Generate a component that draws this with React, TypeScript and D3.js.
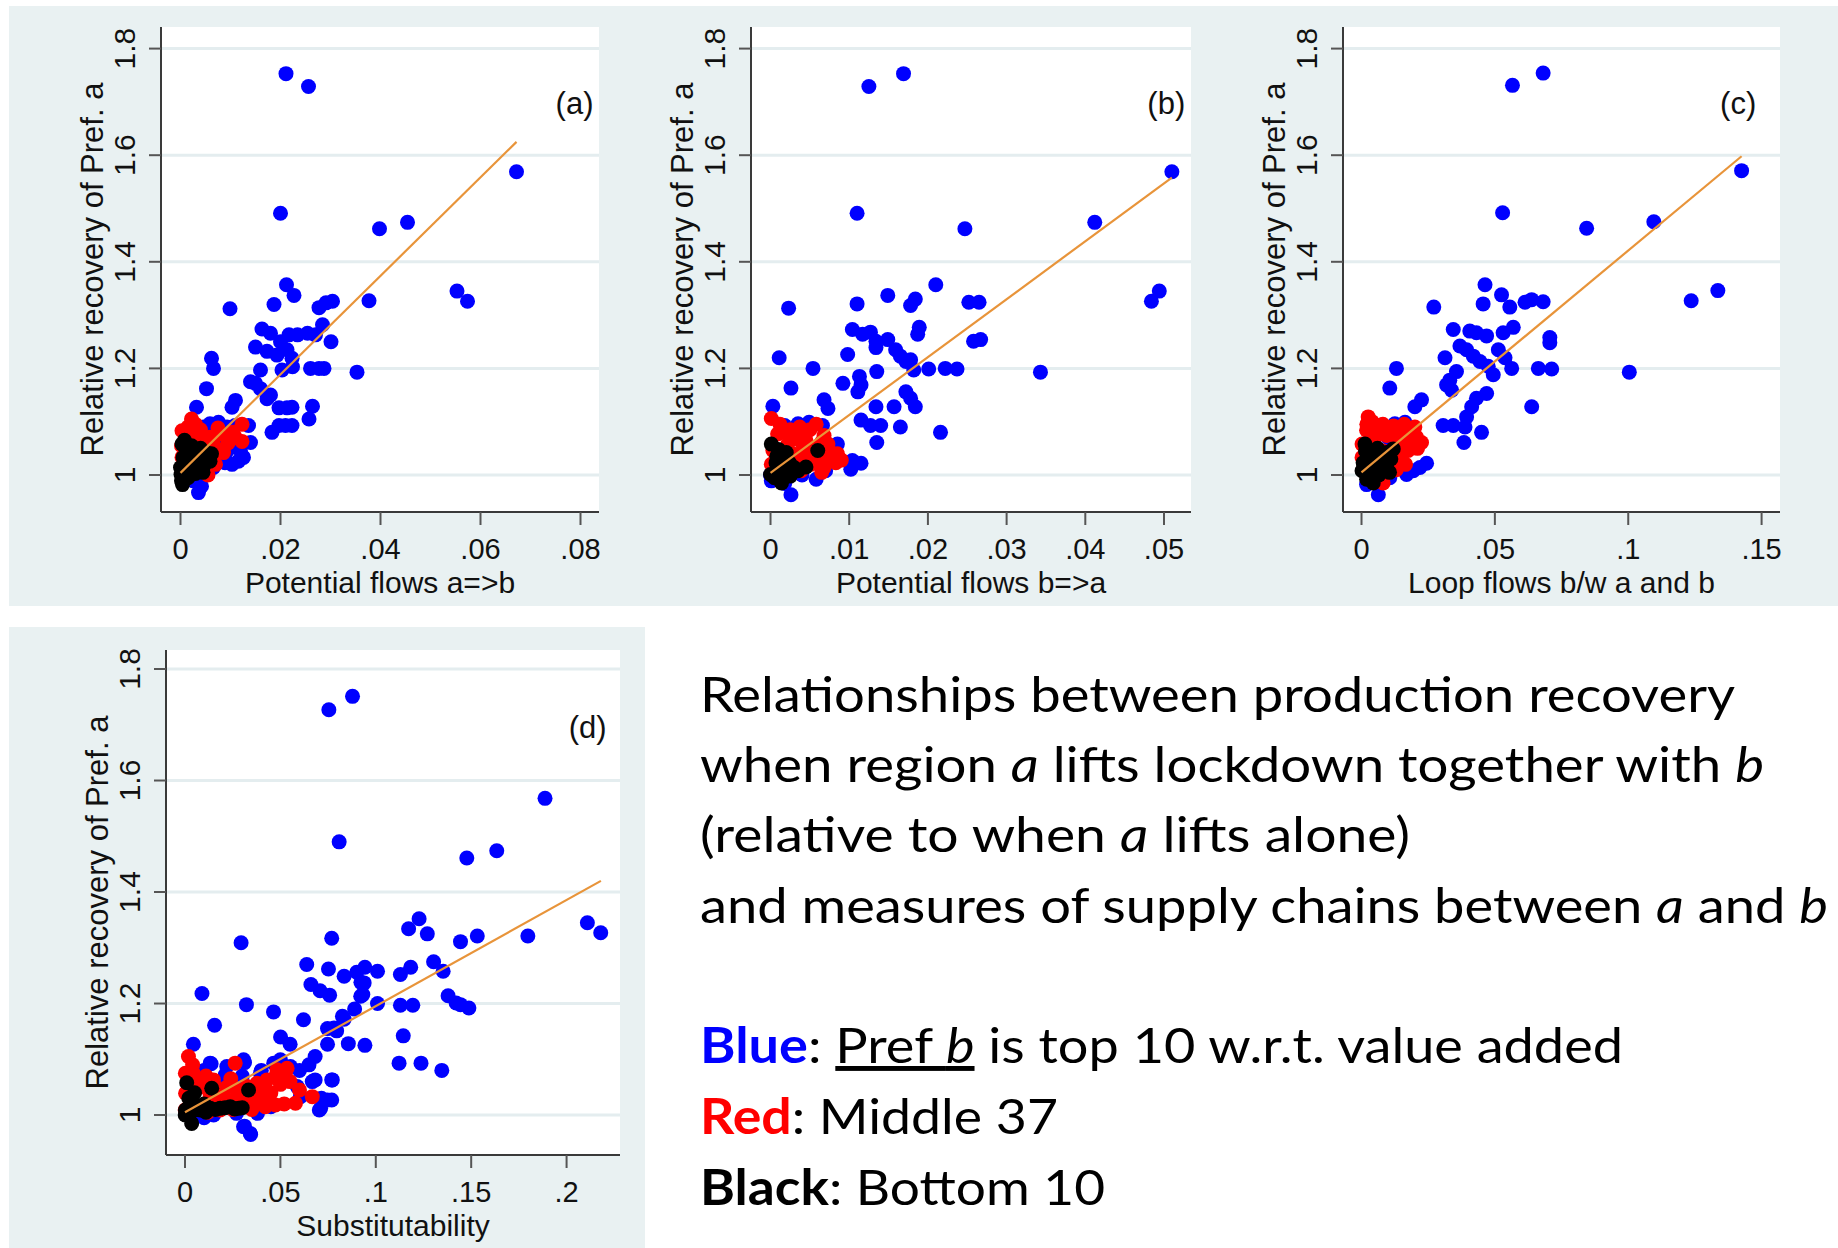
import React from "react";
import * as d3 from "d3";

type Pt = [number, number];

// ---------- shared axis values ----------
const yTicks = [1, 1.2, 1.4, 1.6, 1.8];
const yTitle = "Relative recovery of Pref. a";

const aTicks = [0, 0.02, 0.04, 0.06, 0.08];
const bTicks = [0, 0.01, 0.02, 0.03, 0.04, 0.05];
const cTicks = [0, 0.05, 0.1, 0.15];
const dTicks = [0, 0.05, 0.1, 0.15, 0.2];

const xTitles = ["Potential flows a=>b", "Potential flows b=>a", "Loop flows b/w a and b", "Substitutability"];
const panelLabels = ["(a)", "(b)", "(c)", "(d)"];

// ---------- panel (a) ----------
const aBlue: Pt[] = [
  [0.0211, 1.753], [0.0256, 1.729], [0.0672, 1.569], [0.02, 1.491], [0.0398, 1.462], [0.0454, 1.474],
  [0.0553, 1.345], [0.0574, 1.326], [0.0377, 1.327], [0.0353, 1.193],
  [0.0212, 1.357], [0.0227, 1.337], [0.0099, 1.312], [0.0187, 1.32], [0.0277, 1.314], [0.0291, 1.323],
  [0.0304, 1.326], [0.0284, 1.282], [0.0301, 1.25], [0.0163, 1.274], [0.018, 1.266], [0.02, 1.25],
  [0.0217, 1.263], [0.0234, 1.263], [0.0254, 1.266], [0.027, 1.263], [0.015, 1.24], [0.0173, 1.232],
  [0.0193, 1.225], [0.0213, 1.235], [0.0223, 1.219], [0.0062, 1.219], [0.0066, 1.2], [0.016, 1.197],
  [0.014, 1.175], [0.0203, 1.197], [0.0224, 1.203], [0.026, 1.2], [0.0277, 1.2], [0.0287, 1.2],
  [0.015, 1.172], [0.016, 1.162], [0.0173, 1.143], [0.018, 1.15], [0.0052, 1.162], [0.0032, 1.127],
  [0.011, 1.14], [0.0103, 1.127], [0.0197, 1.126], [0.0213, 1.126], [0.0223, 1.127], [0.0264, 1.129],
  [0.0257, 1.105], [0.0183, 1.08], [0.0197, 1.093], [0.021, 1.093], [0.0223, 1.093],
  [0.0059, 1.096], [0.0076, 1.099], [0.0093, 1.09], [0.0109, 1.093], [0.0136, 1.093], [0.014, 1.061],
  [0.0106, 1.058], [0.0116, 1.026], [0.0103, 1.02], [0.0089, 1.023], [0.0079, 1.033], [0.0066, 1.014],
  [0.0052, 1.008], [0.0039, 0.992], [0.0036, 0.967], [0.0042, 0.979], [0.0026, 0.989], [0.0076, 1.058],
  [0.0046, 1.09], [0.0032, 1.083], [0.0093, 1.045], [0.0126, 1.033], [0.012, 1.045],
];
const aRed: Pt[] = [
  [0.0022, 1.105], [0.0123, 1.095], [0.0123, 1.063], [0.0059, 1.071], [0.0079, 1.077], [0.0039, 1.058],
  [0.0012, 1.071], [0.0002, 1.055], [0.0003, 1.033], [0.0026, 1.033], [0.0052, 1.058], [0.0069, 1.052],
  [0.0086, 1.042], [0.0066, 1.033], [0.0046, 1.008], [0.0009, 1.014], [0.0003, 1.083], [0.0032, 1.071],
  [0.0093, 1.074], [0.007, 1.02],
  [0.0015, 1.09], [0.004, 1.085], [0.0075, 1.088], [0.0105, 1.08], [0.0095, 1.06], [0.011, 1.07],
  [0.008, 1.045], [0.0055, 1.04], [0.0025, 1.045], [0.001, 1.045], [0.003, 1.095], [0.0065, 1.065],
  [0.002, 1.002], [0.0055, 1.0],
];
const aBlack: Pt[] = [
  [0.0003, 1.058], [0.0005, 1.033], [0.0026, 1.02], [0.0046, 1.017], [0.0012, 1.008], [0.0001, 1.001],
  [0.0002, 0.989], [0.0052, 1.042], [0.0019, 1.045], [0.0, 1.014], [0.0004, 0.982], [0.0032, 1.036],
  [0.0059, 1.026], [0.0016, 1.044], [0.003, 1.003], [0.001, 1.025],
  [0.0008, 1.065], [0.0022, 1.055], [0.004, 1.05], [0.0035, 1.028], [0.0015, 0.995], [0.0045, 1.005],
  [0.0062, 1.04], [0.0025, 1.012],
];
const aFit: Pt[] = [[0, 1.004], [0.0672, 1.625]];

// ---------- panel (b) ----------
const bBlue: Pt[] = [
  [0.0169, 1.753], [0.0125, 1.729], [0.051, 1.569], [0.011, 1.491], [0.0247, 1.462], [0.0412, 1.474],
  [0.0494, 1.345], [0.0484, 1.326], [0.0343, 1.193],
  [0.0023, 1.313], [0.011, 1.321], [0.0149, 1.337], [0.021, 1.357], [0.0178, 1.318], [0.0184, 1.33],
  [0.0252, 1.324], [0.0265, 1.324], [0.0189, 1.277], [0.0187, 1.264], [0.0258, 1.251], [0.0267, 1.254],
  [0.0104, 1.273], [0.0117, 1.264], [0.0127, 1.268], [0.0134, 1.251], [0.0134, 1.239], [0.0149, 1.254],
  [0.0159, 1.235], [0.0165, 1.223], [0.0172, 1.213], [0.0178, 1.216], [0.0182, 1.197], [0.0098, 1.226],
  [0.0011, 1.22], [0.0054, 1.2], [0.0201, 1.199], [0.0222, 1.2], [0.0237, 1.199], [0.0113, 1.185],
  [0.0115, 1.169], [0.0111, 1.156], [0.0135, 1.194], [0.0092, 1.172], [0.0026, 1.163], [0.0172, 1.156],
  [0.0178, 1.144], [0.0184, 1.128], [0.0068, 1.141], [0.0073, 1.125], [0.0003, 1.129], [0.0134, 1.128],
  [0.0157, 1.128], [0.0115, 1.103], [0.0127, 1.093], [0.014, 1.093], [0.0165, 1.09], [0.0216, 1.08],
  [0.0135, 1.061], [0.0104, 1.027], [0.0115, 1.022], [0.0102, 1.011], [0.0085, 1.058], [0.0083, 1.046],
  [0.0026, 0.963], [0.0058, 0.992], [0.007, 1.008], [0.0018, 1.093], [0.0035, 1.096], [0.0049, 1.099],
  [0.0066, 1.093], [0.0, 1.0], [0.0001, 0.989], [0.0018, 0.984], [0.004, 1.0], [0.008, 1.03],
];
const bRed: Pt[] = [
  [0.0001, 1.106], [0.0009, 1.077], [0.0058, 1.095], [0.0035, 1.077], [0.0045, 1.065], [0.0022, 1.058],
  [0.003, 1.039], [0.0056, 1.052], [0.0073, 1.058], [0.0077, 1.033], [0.0083, 1.023], [0.0068, 1.014],
  [0.0051, 1.02], [0.0039, 1.008], [0.0018, 1.033], [0.0003, 1.046], [0.0001, 1.02], [0.0014, 1.004],
  [0.0062, 1.036], [0.0047, 1.042], [0.0032, 1.02], [0.0037, 1.09], [0.0068, 1.074], [0.0055, 1.03],
  [0.0012, 1.095], [0.0025, 1.085], [0.005, 1.085], [0.0065, 1.062], [0.0075, 1.045], [0.0085, 1.04],
  [0.009, 1.028], [0.006, 1.022], [0.0045, 1.03], [0.0025, 1.025], [0.0015, 1.045], [0.004, 1.06],
  [0.0065, 1.005], [0.0025, 1.068],
];
const bBlack: Pt[] = [
  [0.0001, 1.058], [0.006, 1.046], [0.002, 1.042], [0.0007, 1.023], [0.003, 1.014], [0.0014, 1.008],
  [0.0, 1.001], [0.0005, 0.995], [0.0014, 0.985], [0.0035, 1.008], [0.0024, 1.023],
  [0.0008, 1.035], [0.0045, 1.015], [0.0025, 0.998], [0.001, 1.048],
];
const bFit: Pt[] = [[0, 1.004], [0.051, 1.558]];

// ---------- panel (c) ----------
const cBlue: Pt[] = [
  [0.0681, 1.754], [0.0566, 1.731], [0.1425, 1.571], [0.0529, 1.492], [0.0844, 1.463], [0.1096, 1.475],
  [0.1336, 1.346], [0.1236, 1.327], [0.1004, 1.193],
  [0.0463, 1.357], [0.0525, 1.338], [0.0456, 1.321], [0.0271, 1.315], [0.0556, 1.315], [0.0613, 1.324],
  [0.0638, 1.329], [0.0681, 1.325], [0.0344, 1.273], [0.0406, 1.27], [0.0431, 1.267], [0.0469, 1.261],
  [0.0531, 1.267], [0.0569, 1.277], [0.0706, 1.258], [0.0706, 1.248], [0.0369, 1.242], [0.0394, 1.235],
  [0.0419, 1.223], [0.0444, 1.213], [0.0475, 1.204], [0.0513, 1.235], [0.0538, 1.22], [0.0563, 1.2],
  [0.0494, 1.188], [0.0313, 1.22], [0.0131, 1.2], [0.0663, 1.2], [0.0713, 1.199], [0.0356, 1.194],
  [0.0331, 1.178], [0.0319, 1.169], [0.0338, 1.159], [0.0106, 1.163], [0.0638, 1.128], [0.0225, 1.141],
  [0.02, 1.128], [0.0469, 1.153], [0.0431, 1.144], [0.0413, 1.128], [0.0394, 1.109], [0.0306, 1.093],
  [0.0344, 1.093], [0.0388, 1.09], [0.045, 1.08], [0.0384, 1.061], [0.0069, 1.093], [0.0125, 1.096],
  [0.0163, 1.099], [0.0244, 1.022], [0.0219, 1.014], [0.0194, 1.008], [0.0169, 1.001], [0.0063, 0.963],
  [0.0019, 0.982], [0.0106, 0.995], [0.0169, 1.058], [0.015, 1.08], [0.01, 1.07],
];
const cRed: Pt[] = [
  [0.0025, 1.109], [0.0225, 1.061], [0.0019, 1.084], [0.0056, 1.09], [0.0094, 1.074], [0.0131, 1.071],
  [0.0169, 1.084], [0.02, 1.09], [0.0175, 1.046], [0.0144, 1.03], [0.0106, 1.02], [0.0069, 1.008],
  [0.0031, 1.014], [0.0002, 1.033], [0.0002, 1.058], [0.0044, 1.058], [0.0081, 0.985], [0.0206, 1.071],
  [0.013, 1.05], [0.005, 1.03],
  [0.004, 1.1], [0.008, 1.095], [0.012, 1.092], [0.016, 1.095], [0.019, 1.075], [0.021, 1.05],
  [0.017, 1.06], [0.015, 1.04], [0.011, 1.035], [0.008, 1.045], [0.005, 1.07], [0.002, 1.095],
  [0.013, 1.01], [0.0165, 1.02], [0.0085, 1.0],
];
const cBlack: Pt[] = [
  [0.0013, 1.058], [0.0044, 1.042], [0.0094, 1.042], [0.0119, 1.049], [0.0002, 1.008], [0.0031, 1.001],
  [0.0019, 0.992], [0.0056, 1.011], [0.0094, 1.014], [0.0006, 1.023], [0.0044, 0.985], [0.0075, 1.027],
  [0.003, 1.03], [0.006, 1.05], [0.011, 1.03], [0.0015, 1.045], [0.0065, 1.0], [0.0105, 1.005],
];
const cFit: Pt[] = [[0, 1.005], [0.1425, 1.598]];

// ---------- panel (d) ----------
const dBlue: Pt[] = [
  [0.0878, 1.751], [0.0754, 1.727], [0.1887, 1.568], [0.0808, 1.49], [0.1477, 1.461], [0.1634, 1.474],
  [0.2109, 1.345], [0.2179, 1.327], [0.1797, 1.321], [0.1444, 1.311], [0.1532, 1.321], [0.1172, 1.334],
  [0.1227, 1.352], [0.127, 1.325], [0.0769, 1.317], [0.0294, 1.309],
  [0.0089, 1.218], [0.0322, 1.198], [0.0464, 1.185], [0.0155, 1.161], [0.0044, 1.127], [0.1346, 1.08],
  [0.1122, 1.093], [0.1237, 1.093], [0.0943, 1.125], [0.0856, 1.128], [0.1144, 1.142], [0.1379, 1.214],
  [0.1444, 1.198], [0.1488, 1.192], [0.1129, 1.197], [0.1194, 1.197], [0.1009, 1.2], [0.1303, 1.275],
  [0.1353, 1.258], [0.1129, 1.252], [0.1183, 1.265], [0.0638, 1.27], [0.0752, 1.262], [0.066, 1.234],
  [0.0708, 1.223], [0.0758, 1.215], [0.0834, 1.249], [0.09, 1.256], [0.0943, 1.265], [0.1009, 1.258],
  [0.0922, 1.238], [0.0932, 1.216], [0.0889, 1.19], [0.0834, 1.172], [0.0621, 1.171], [0.0747, 1.155],
  [0.0795, 1.151], [0.0747, 1.127], [0.0501, 1.14], [0.0551, 1.127], [0.0682, 1.105], [0.0769, 1.063],
  [0.0682, 1.063], [0.0715, 1.03], [0.0769, 1.027], [0.0704, 1.009], [0.0312, 0.98], [0.0344, 0.965],
  [0.0137, 1.092], [0.0312, 1.094], [0.0781, 1.156], [0.0825, 1.177], [0.0939, 1.237], [0.0921, 1.213],
  [0.1421, 1.201],
  [0.0132, 1.093], [0.0219, 1.087], [0.0307, 1.099], [0.0211, 1.072], [0.0395, 1.075], [0.0465, 1.093],
  [0.05, 1.099], [0.0553, 1.087], [0.0588, 1.051], [0.0605, 1.033], [0.0667, 1.06], [0.0772, 1.063],
  [0.0711, 1.012], [0.0746, 1.027], [0.0307, 0.979], [0.0342, 0.967], [0.027, 1.003], [0.038, 1.003],
  [0.045, 1.015], [0.01, 0.995], [0.005, 1.0], [0.015, 1.0],
  [0.02, 1.06], [0.03, 1.07], [0.04, 1.08], [0.06, 1.08], [0.065, 1.09], [0.01, 1.08], [0.005, 1.05],
];
const dRed: Pt[] = [
  [0.0018, 1.105], [0.0263, 1.093], [0.0044, 1.075], [0.0002, 1.075], [0.0149, 1.063], [0.0132, 1.033],
  [0.0184, 1.033], [0.0254, 1.027], [0.0325, 1.051], [0.0377, 1.057], [0.043, 1.063], [0.0474, 1.069],
  [0.0526, 1.075], [0.0535, 1.084], [0.0482, 1.081], [0.0395, 1.027], [0.0447, 1.024], [0.0474, 1.018],
  [0.0421, 1.015], [0.0579, 1.021], [0.0667, 1.033], [0.029, 1.027], [0.0342, 1.021], [0.0003, 1.039],
  [0.0026, 1.027], [0.0001, 1.009], [0.0096, 1.015], [0.0184, 1.009], [0.008, 1.05], [0.022, 1.05],
  [0.004, 1.09], [0.006, 1.06], [0.011, 1.07], [0.016, 1.05], [0.02, 1.04], [0.024, 1.065], [0.028, 1.045],
  [0.036, 1.04], [0.04, 1.05], [0.045, 1.04], [0.05, 1.055], [0.055, 1.06], [0.052, 1.02], [0.035, 1.01],
  [0.025, 1.01], [0.06, 1.045], [0.012, 1.005],
];
const dBlack: Pt[] = [
  [0.0009, 1.058], [0.014, 1.048], [0.0333, 1.045], [0.0002, 1.009], [0.0026, 1.003], [0.0035, 0.985],
  [0.0079, 1.009], [0.0132, 1.012], [0.0184, 1.012], [0.0237, 1.015], [0.0281, 1.012], [0.0044, 1.021],
  [0.0001, 1.0], [0.01, 1.02],
  [0.006, 1.01], [0.016, 1.01], [0.021, 1.013], [0.026, 1.011], [0.03, 1.013], [0.002, 1.03], [0.005, 1.04],
  [0.011, 1.005],
];
const dFit: Pt[] = [[0, 1.005], [0.218, 1.42]];

// label anchor points (data coordinates: right end x, baseline y)
const labelXs = [0.0826, 0.0527, 0.148, 0.221];
const labelY = 1.677;

// ---------- layout ----------
const W = 1838;
const H = 1248;
const BG = "#e9f1f2";
const GRID = "#e4edef";
const FONT = "'Liberation Sans', Arial, sans-serif";

interface Spec {
  left: number; right: number; top: number; bottom: number;
  xDomain: [number, number]; yDomain: [number, number];
  xTicks: number[]; xTitle: string; label: string; labelX: number;
  blue: Pt[]; red: Pt[]; black: Pt[]; fit: Pt[];
}

const specs: Spec[] = [
  { left: 161, right: 599, top: 27, bottom: 512, xDomain: [-0.0039, 0.0837], yDomain: [0.9306, 1.8405],
    xTicks: aTicks, xTitle: xTitles[0], label: panelLabels[0], labelX: labelXs[0], blue: aBlue, red: aRed, black: aBlack, fit: aFit },
  { left: 751, right: 1191, top: 27, bottom: 512, xDomain: [-0.00248, 0.05343], yDomain: [0.9306, 1.8405],
    xTicks: bTicks, xTitle: xTitles[1], label: panelLabels[1], labelX: labelXs[1], blue: bBlue, red: bRed, black: bBlack, fit: bFit },
  { left: 1343, right: 1780, top: 27, bottom: 512, xDomain: [-0.00694, 0.1569], yDomain: [0.9306, 1.8405],
    xTicks: cTicks, xTitle: xTitles[2], label: panelLabels[2], labelX: labelXs[2], blue: cBlue, red: cRed, black: cBlack, fit: cFit },
  { left: 166, right: 620, top: 650, bottom: 1155, xDomain: [-0.00996, 0.228], yDomain: [0.9283, 1.8341],
    xTicks: dTicks, xTitle: xTitles[3], label: panelLabels[3], labelX: labelXs[3], blue: dBlue, red: dRed, black: dBlack, fit: dFit },
];

const fmt = (v: number) => {
  const s = String(+v.toFixed(4));
  return s.startsWith("0.") ? s.slice(1) : s;
};

function Panel({ s }: { s: Spec }) {
  const x = d3.scaleLinear().domain(s.xDomain).range([s.left, s.right]);
  const y = d3.scaleLinear().domain(s.yDomain).range([s.bottom, s.top]);
  const line = d3.line<Pt>().x((d) => x(d[0])).y((d) => y(d[1]));
  const cx = (s.left + s.right) / 2;
  const cy = (s.top + s.bottom) / 2;
  const r = 7.5;
  const dots = (pts: Pt[], color: string) =>
    pts.map((p, i) => <circle key={color + i} cx={x(p[0])} cy={y(p[1])} r={r} fill={color} />);
  return (
    <g>
      <rect x={s.left} y={s.top} width={s.right - s.left} height={s.bottom - s.top} fill="#ffffff" />
      {yTicks.map((t) => (
        <line key={"g" + t} x1={s.left} x2={s.right} y1={y(t)} y2={y(t)} stroke={GRID} strokeWidth={3} />
      ))}
      {dots(s.blue, "#0000ff")}
      {dots(s.red, "#ff0000")}
      {dots(s.black, "#000000")}
      <path d={line(s.fit) || ""} stroke="#e8943a" strokeWidth={2.2} fill="none" />
      {/* axes */}
      <line x1={s.left} x2={s.left} y1={s.top} y2={s.bottom} stroke="#3a3a3a" strokeWidth={2} />
      <line x1={s.left} x2={s.right} y1={s.bottom} y2={s.bottom} stroke="#3a3a3a" strokeWidth={2} />
      {yTicks.map((t) => (
        <g key={"yt" + t}>
          <line x1={s.left - 12} x2={s.left} y1={y(t)} y2={y(t)} stroke="#555" strokeWidth={2} />
          <text transform={`translate(${s.left - 26},${y(t)}) rotate(-90)`} textAnchor="middle"
            fontFamily={FONT} fontSize={30} fill="#111">{fmt(t)}</text>
        </g>
      ))}
      {s.xTicks.map((t) => (
        <g key={"xt" + t}>
          <line x1={x(t)} x2={x(t)} y1={s.bottom} y2={s.bottom + 13} stroke="#555" strokeWidth={2} />
          <text x={x(t)} y={s.bottom + 47} textAnchor="middle" fontFamily={FONT} fontSize={29} fill="#111">{fmt(t)}</text>
        </g>
      ))}
      <text x={cx} y={s.bottom + 81} textAnchor="middle" fontFamily={FONT} fontSize={30} fill="#111">{s.xTitle}</text>
      <text transform={`translate(${s.left - 58},${cy}) rotate(-90)`} textAnchor="middle"
        fontFamily={FONT} fontSize={31} fill="#111">{yTitle}</text>
      <text x={x(s.labelX)} y={y(labelY)} textAnchor="end" fontFamily={FONT} fontSize={31} fill="#111">{s.label}</text>
    </g>
  );
}

const TFONT = "Lato, 'Open Sans', sans-serif";

export default function App() {
  return (
    <svg width={W} height={H} viewBox={`0 0 ${W} ${H}`}
      style={{ position: "absolute", left: 0, top: 0, background: "#fff" }}>
      <rect x={9} y={6} width={W - 9} height={600} fill={BG} />
      <rect x={9} y={627} width={636} height={H - 627} fill={BG} />
      {specs.map((s, i) => <Panel key={i} s={s} />)}
      <g fontFamily={TFONT} fontSize={49} fill="#000">
        <text x={700} y={712} textLength={1035} lengthAdjust="spacingAndGlyphs">Relationships between production recovery</text>
        <text x={700} y={782} textLength={1064} lengthAdjust="spacingAndGlyphs">
          {"when region "}<tspan fontStyle="italic">a</tspan>{" lifts lockdown together with "}<tspan fontStyle="italic">b</tspan>
        </text>
        <text x={700} y={852} textLength={710} lengthAdjust="spacingAndGlyphs">
          {"(relative to when "}<tspan fontStyle="italic">a</tspan>{" lifts alone)"}
        </text>
        <text x={700} y={923} textLength={1128} lengthAdjust="spacingAndGlyphs">
          {"and measures of supply chains between "}<tspan fontStyle="italic">a</tspan>{" and "}<tspan fontStyle="italic">b</tspan>
        </text>
        <text x={700} y={1063} textLength={923} lengthAdjust="spacingAndGlyphs">
          <tspan fontWeight="bold" fill="#0000ff">Blue</tspan>{": "}
          <tspan textDecoration="underline">{"Pref "}<tspan fontStyle="italic">b</tspan></tspan>
          {" is top 10 w.r.t. value added"}
        </text>
        <text x={700} y={1134} textLength={358} lengthAdjust="spacingAndGlyphs">
          <tspan fontWeight="bold" fill="#ff0000">Red</tspan>{": Middle 37"}
        </text>
        <text x={700} y={1205} textLength={405} lengthAdjust="spacingAndGlyphs">
          <tspan fontWeight="bold">Black</tspan>{": Bottom 10"}
        </text>
      </g>
    </svg>
  );
}
